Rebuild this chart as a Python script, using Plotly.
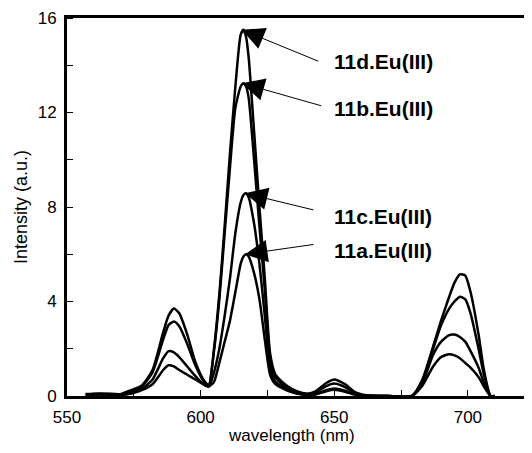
import plotly.graph_objects as go

wavelength = [557, 560, 565, 570, 574, 578, 582, 586, 588, 590, 592, 595, 598, 601, 603,
              605, 607, 609, 611, 613, 615, 616, 617, 618, 620, 622, 624, 626, 628, 632,
              636, 640, 643, 647, 650, 654, 658, 662, 670, 679, 683, 687, 690, 693, 695,
              697, 699, 701, 704, 706, 708.5, 710]

eu_11d = [0.08, 0.10, 0.10, 0.08, 0.25, 0.45, 1.10, 2.70, 3.40, 3.70, 3.50, 2.60, 1.45, 0.70, 0.45,
          2.00, 4.30, 7.20, 10.30, 13.10, 15.30, 15.50, 15.20, 14.30, 11.20, 8.00, 5.00, 1.80, 0.90, 0.45,
          0.20, 0.10, 0.20, 0.55, 0.70, 0.50, 0.15, 0.03, 0.00, 0.00, 0.70, 2.10, 3.20, 4.20, 4.80,
          5.15, 5.10, 4.40, 2.60, 1.10, 0.00, 0.00]

eu_11b = [0.06, 0.08, 0.08, 0.06, 0.20, 0.40, 1.00, 2.40, 3.00, 3.15, 2.95, 2.20, 1.30, 0.65, 0.45,
          1.90, 4.10, 6.90, 9.70, 12.20, 13.10, 13.24, 13.10, 12.60, 10.00, 7.20, 4.50, 1.60, 0.80, 0.35,
          0.15, 0.08, 0.15, 0.42, 0.53, 0.38, 0.10, 0.02, 0.00, 0.00, 0.65, 2.00, 3.00, 3.70, 4.00,
          4.20, 4.10, 3.50, 2.00, 0.90, 0.00, 0.00]

eu_11c = [0.05, 0.06, 0.06, 0.05, 0.12, 0.30, 0.70, 1.60, 1.90, 1.85, 1.65, 1.25, 0.85, 0.50, 0.40,
          1.00, 2.00, 3.40, 5.00, 6.90, 8.20, 8.50, 8.58, 8.40, 7.30, 5.60, 3.40, 1.20, 0.60, 0.30,
          0.12, 0.05, 0.08, 0.25, 0.32, 0.22, 0.06, 0.01, 0.00, 0.00, 0.55, 1.75, 2.30, 2.58, 2.60,
          2.50, 2.30, 1.90, 1.20, 0.55, 0.00, 0.00]

eu_11a = [0.05, 0.06, 0.06, 0.05, 0.10, 0.25, 0.50, 1.10, 1.30, 1.25, 1.10, 0.90, 0.70, 0.50, 0.40,
          0.60, 1.40, 2.30, 3.20, 4.40, 5.60, 5.90, 6.00, 5.90, 5.20, 4.10, 2.40, 0.90, 0.50, 0.25,
          0.10, 0.05, 0.06, 0.20, 0.26, 0.18, 0.05, 0.01, 0.00, 0.00, 0.45, 1.25, 1.65, 1.77, 1.72,
          1.60, 1.40, 1.20, 0.80, 0.40, 0.00, 0.00]

series = [eu_11d, eu_11b, eu_11c, eu_11a]
labels = ["11d.Eu(III)", "11b.Eu(III)", "11c.Eu(III)", "11a.Eu(III)"]
peak_values = [15.5, 13.24, 8.58, 6.0]
peak_positions = [615.4, 615.4, 616.6, 616.6]
label_y = [14.18, 12.19, 7.61, 6.17]
arrow_tail = [(78, 32), (81, 23), (70, 17), (70, -10)]

x_ticks = [550, 600, 650, 700]
y_ticks = [0, 4, 8, 12, 16]

FONT = "Liberation Sans, Arial, Helvetica, sans-serif"

fig = go.Figure()
for s, name in zip(series, labels):
    fig.add_trace(go.Scatter(x=wavelength, y=s, mode="lines", name=name,
                             line=dict(color="black", width=2.5, shape="spline", smoothing=0.6),
                             showlegend=False, hoverinfo="skip"))

for lab, px, pv, ly, (dx, dy) in zip(labels, peak_positions, peak_values, label_y, arrow_tail):
    fig.add_annotation(x=px, y=pv, xref="x", yref="y", text="", showarrow=True,
                       ax=dx, ay=dy, arrowhead=2, arrowsize=4.5, arrowwidth=1,
                       arrowcolor="black")
    fig.add_annotation(x=649.0, y=ly, xref="x", yref="y", text="<b>" + lab + "</b>",
                       showarrow=False, xanchor="left", yanchor="middle",
                       font=dict(family=FONT, size=21, color="black"))

# x-axis title placed as an annotation so it sits close to the tick labels
fig.add_annotation(x=0.4917, y=-0.105, xref="paper", yref="paper", text="wavelength (nm)",
                   showarrow=False, xanchor="center", yanchor="middle",
                   font=dict(family=FONT, size=17, color="black"))

fig.update_xaxes(range=[550, 721], tickvals=x_ticks, ticktext=[str(v) for v in x_ticks],
                 ticks="inside", ticklen=6, tickwidth=1, tickcolor="black",
                 minor=dict(dtick=25, tick0=550, ticks="inside", ticklen=6, tickwidth=1, tickcolor="black"),
                 showline=True, linewidth=3, linecolor="black", mirror=True,
                 showgrid=False, zeroline=False, ticklabelstandoff=4, automargin=False,
                 tickfont=dict(family=FONT, size=17, color="black"))
fig.update_yaxes(range=[0, 16], tickvals=y_ticks, ticktext=[str(v) for v in y_ticks],
                 ticks="",
                 minor=dict(dtick=2, tick0=0, ticks="inside", ticklen=6, tickwidth=1, tickcolor="black"),
                 showline=True, linewidth=3, linecolor="black", mirror=False,
                 showgrid=False, zeroline=False, ticklabelstandoff=4, automargin=False,
                 tickfont=dict(family=FONT, size=17, color="black"),
                 title=dict(text="Intensity (a.u.)", font=dict(family=FONT, size=18, color="black"),
                            standoff=6))

# page body has an 8px margin; keep the figure inside the visible window
fig.update_layout(width=516, height=437, margin=dict(l=59, r=0, t=10, b=49),
                  plot_bgcolor="white", paper_bgcolor="white")

fig.write_html("out.html")
